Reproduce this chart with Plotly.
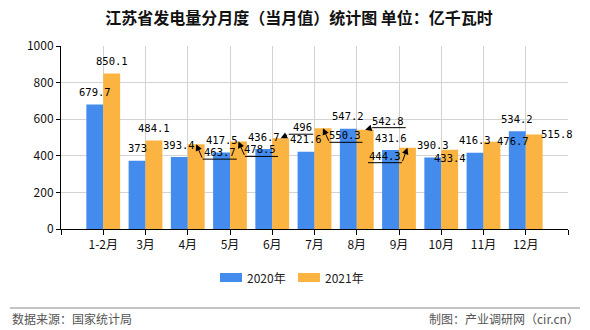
import plotly.graph_objects as go

# ---- data ----
categories = ["1-2月", "3月", "4月", "5月", "6月", "7月", "8月", "9月", "10月", "11月", "12月"]
values_2020 = [679.7, 373, 393.4, 417.5, 436.7, 421.6, 547.2, 431.6, 390.3, 416.3, 534.2]
values_2021 = [850.1, 484.1, 463.7, 478.5, 496, 550.3, 542.8, 444.3, 433.4, 476.7, 515.8]
series_names = ["2020年", "2021年"]
y_ticks = [0, 200, 400, 600, 800, 1000]

# ---- style ----
BLUE = "#448BEE"
ORANGE = "#FBB442"
CJK = "Noto Sans CJK SC"
NUM = "DejaVu Sans Mono"
W, H = 590, 330
L, R, T, B = 61, 568, 46, 229  # plot area in pixels


def px(xp):
    return (xp - L) / (R - L)


def py(yp):
    return (B - yp) / (B - T)


xs = list(range(len(categories)))

fig = go.Figure()
fig.add_trace(go.Bar(x=xs, y=values_2020, name=series_names[0], marker_color=BLUE,
                     marker_line_width=0, hoverinfo="skip"))
fig.add_trace(go.Bar(x=xs, y=values_2021, name=series_names[1], marker_color=ORANGE,
                     marker_line_width=0, hoverinfo="skip"))

annotations = []
shapes = []

LABEL_UP = 12.5
label_font = dict(family=NUM, size=10.5, color="#000000")

# displaced 2021 labels: index -> (label dx, label dy_up, leader or None)
# leader: (corner dx, corner dy_up, underline end dx)
moved_2021 = {
    2: (23.5, -8, (6.5, -15, 40.5)),
    3: (21.5, -8, (6.5, -15, 39.5)),
    4: (21.5, 11, (8, 4, 32.5)),
    5: (22.5, -7, (6.5, -14, 39.5)),
    6: (22.5, 9, (7, 2, 40.5)),
    7: (-22.5, -8, (-5.5, -15, -39.5)),
    8: (0, -8, None),
    9: (21.5, 1, None),
    10: (22.5, 1, None),
}

for i, v in enumerate(values_2020):
    annotations.append(dict(x=i - 0.2, y=v, xref="x", yref="y", text=str(v),
                            showarrow=False, yshift=LABEL_UP, yanchor="middle",
                            xanchor="center", font=label_font))

for i, v in enumerate(values_2021):
    if i in moved_2021:
        dx, dy, leader = moved_2021[i]
        annotations.append(dict(x=i + 0.2, y=v, xref="x", yref="y", text=str(v),
                                showarrow=False, xshift=dx, yshift=dy, yanchor="middle",
                                xanchor="center", font=label_font))
        if leader is not None:
            cx, cy, ex = leader
            annotations.append(dict(x=i + 0.2, y=v, xref="x", yref="y", text="",
                                    showarrow=True, ax=cx, ay=-cy, arrowhead=2,
                                    arrowsize=1.3, arrowwidth=1, arrowcolor="#000000",
                                    standoff=0))
            shapes.append(dict(type="path", xref="x", yref="y",
                               xsizemode="pixel", ysizemode="pixel",
                               xanchor=i + 0.2, yanchor=v,
                               path=f"M {cx},{cy} L {ex},{cy}",
                               line=dict(color="#000000", width=1)))
    else:
        annotations.append(dict(x=i + 0.2, y=v, xref="x", yref="y", text=str(v),
                                showarrow=False, yshift=LABEL_UP, yanchor="middle",
                                xanchor="center", font=label_font))

# custom legend
legend_items = [(220, BLUE, series_names[0]), (298, ORANGE, series_names[1])]
for x0, col, name in legend_items:
    shapes.append(dict(type="rect", xref="paper", yref="paper",
                       x0=px(x0), x1=px(x0 + 22), y0=py(282), y1=py(273),
                       fillcolor=col, line=dict(width=0)))
    annotations.append(dict(x=px(x0 + 25), y=py(277), xref="paper", yref="paper",
                            text=name, showarrow=False, xanchor="left", yanchor="middle",
                            font=dict(family=CJK, size=12, color="#222222")))

# footer
shapes.append(dict(type="line", xref="paper", yref="paper",
                   x0=px(10), x1=px(580), y0=py(308), y1=py(308),
                   line=dict(color="#888888", width=1)))
annotations.append(dict(x=px(10), y=py(318), xref="paper", yref="paper",
                        text="数据来源：国家统计局", showarrow=False, xanchor="left",
                        yanchor="middle", font=dict(family=CJK, size=12, color="#555555")))
annotations.append(dict(x=px(581), y=py(318), xref="paper", yref="paper",
                        text="制图：产业调研网（cir.cn）", showarrow=False, xanchor="right",
                        yanchor="middle", font=dict(family=CJK, size=12, color="#555555")))

fig.update_layout(
    width=W, height=H,
    margin=dict(l=L, r=W - R, t=T, b=H - B, pad=0),
    paper_bgcolor="white", plot_bgcolor="white",
    barmode="group", bargap=0.2, bargroupgap=0,
    showlegend=False,
    title=dict(text="<b>江苏省发电量分月度（当月值）统计图 单位：亿千瓦时</b>",
               x=299 / W, xanchor="center", y=1 - 18 / H, yanchor="middle",
               font=dict(family=CJK, size=16, color="#111111")),
    xaxis=dict(range=[-1, len(categories)],
               tickvals=list(range(-1, len(categories) + 1)),
               ticktext=[""] + categories + [""],
               ticks="outside", ticklen=5, tickcolor="#000000",
               showline=True, linecolor="#000000", linewidth=1,
               showgrid=True, gridcolor="#d3d3d3", gridwidth=1, zeroline=False,
               tickfont=dict(family=CJK, size=12, color="#111111"), fixedrange=True),
    yaxis=dict(range=[0, 1000], tickvals=y_ticks,
               ticks="outside", ticklen=4, tickcolor="#000000",
               showline=True, linecolor="#000000", linewidth=1,
               showgrid=True, gridcolor="#d3d3d3", gridwidth=1, zeroline=False,
               tickfont=dict(family=CJK, size=12, color="#111111"), fixedrange=True),
    annotations=annotations,
    shapes=shapes,
)

fig.write_html("out.html")
